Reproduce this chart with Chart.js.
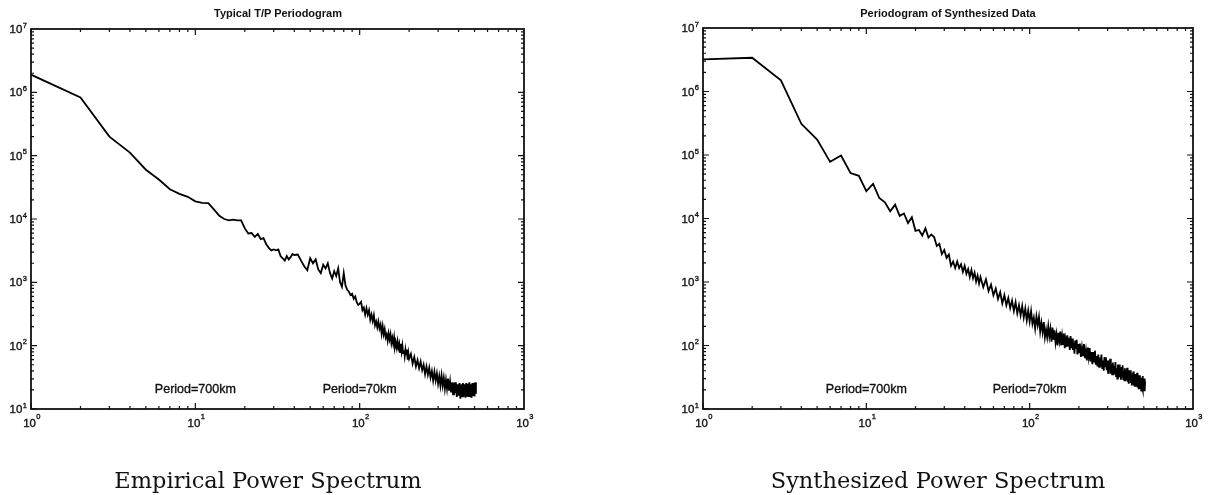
<!DOCTYPE html>
<html>
<head>
<meta charset="utf-8">
<script src="https://cdn.jsdelivr.net/npm/chart.js@4.4.1/dist/chart.umd.min.js"></script>
<style>
  body { margin: 0; background: #fff; width: 1214px; height: 495px; position: relative; overflow: hidden; }
  .panel { position: absolute; top: 0; width: 607px; height: 495px; }
  .title { position: absolute; top: 8px; font: bold 11px "Liberation Sans", Arial, sans-serif; line-height: 11px;
           transform: translateX(-50%); white-space: nowrap; color: #111; }
  .caption { position: absolute; top: 467px; font: 22.5px "DejaVu Serif", serif; line-height: 26px;
             transform: translateX(-50%); white-space: nowrap; color: #111; }
</style>
</head>
<body>
<div class="panel" style="left:0"><canvas id="empirical" width="607" height="495"></canvas></div>
<div class="panel" style="left:607px"><canvas id="synth" width="607" height="495"></canvas></div>
<div class="title" style="left:278px">Typical T/P Periodogram</div>
<div class="title" style="left:948px">Periodogram of Synthesized Data</div>
<div class="caption" style="left:268px">Empirical Power Spectrum</div>
<div class="caption" style="left:938px">Synthesized Power Spectrum</div>
<script>
// tick labels (powers of ten)
const xExponents = [0, 1, 2, 3];
const yExponents = [1, 2, 3, 4, 5, 6, 7];
// text marks inside the plots
const periodLabels = ['Period=700km', 'Period=70km'];
const periodFreqs = [10, 100];
const periodLabelPower = 20;

// left panel: typical T/P periodogram
const empiricalFreq = [
  1, 2, 3, 4, 5, 6, 7, 8, 9, 10, 11, 12, 13, 14, 15, 16, 17, 18, 19, 20,
  21, 22, 23, 24, 25, 26, 27, 28, 29, 30, 31, 32, 33, 34, 35, 36, 37, 38, 39, 40,
  42, 44, 46, 48, 50, 52, 54, 56, 58, 60, 62, 64, 66, 68, 70, 72, 74, 76, 78, 80,
  82, 84, 86, 88, 90, 92, 94, 96, 98, 100,
  102, 104, 106, 108, 110, 112, 114, 116, 118, 120, 122, 124, 126, 128, 130, 132, 134, 136, 138, 140,
  142, 144, 146, 148, 150, 152, 154, 156, 158, 160, 162, 164, 166, 168, 170, 172, 174, 176, 178, 180,
  182, 184, 186, 188, 190, 192, 194, 196, 198, 200,
  205, 210, 215, 220, 225, 230, 235, 240, 245, 250, 255, 260, 265, 270, 275, 280, 285, 290, 295, 300,
  305, 310, 315, 320, 325, 330, 335, 340, 345, 350, 355, 360, 365, 370, 375, 380, 385, 390, 395, 400,
  405, 410, 415, 420, 425, 430, 435, 440, 445, 450, 455, 460, 465, 470, 475, 480, 485, 490, 495, 500,
  505, 510
];
const empiricalPower = [
  1.9e6, 8.3e5, 2.0e5, 1.12e5, 6.0e4, 4.2e4, 2.95e4, 2.5e4, 2.24e4, 1.9e4,
  1.8e4, 1.78e4, 1.41e4, 1.12e4, 1.0e4, 9.5e3, 9.8e3, 9.5e3, 9.5e3, 7.1e3,
  5.9e3, 6.0e3, 5.2e3, 5.8e3, 4.8e3, 5.0e3, 4.0e3, 3.5e3, 3.2e3, 3.3e3,
  3.2e3, 3.3e3, 2.6e3, 2.4e3, 2.2e3, 2.6e3, 2.3e3, 2.5e3, 2.8e3, 2.7e3,
  2.75e3, 2.2e3, 1.8e3, 1.55e3, 2.4e3, 2.0e3, 2.3e3, 1.6e3, 1.4e3, 1.9e3,
  1.66e3, 2.0e3, 1.4e3, 1.15e3, 1.5e3, 1.26e3, 1.66e3, 1.0e3, 850, 1.4e3,
  890, 760, 710, 630, 660, 550, 600, 480, 440, 460,
  490, 363, 398, 309, 389, 309, 363, 257, 309, 245,
  302, 209, 240, 195, 240, 186, 214, 155, 204, 151,
  182, 135, 151, 120, 155, 126, 151, 110, 132, 107,
  135, 95, 110, 93, 117, 93, 107, 79, 107, 81,
  100, 76, 85, 68, 87, 72, 87, 60, 76, 62,
  74, 52, 66, 47, 59, 44, 56, 41, 50, 35.5,
  47, 34.7, 44.7, 31.6, 39.8, 28.2, 38.9, 28.2, 36.3, 25.1,
  33.1, 23.4, 33.9, 23.4, 30.9, 20.9, 28.8, 20.9, 30.2, 19.5,
  26.9, 18.2, 26.3, 17.0, 26.3, 17.8, 26.3, 15.5, 24.5, 16.2,
  25.7, 14.5, 24.5, 15.8, 25.7, 15.8, 24.5, 15.1, 25.7, 16.2,
  25.1, 15.5, 26.3, 15.8, 24.5, 15.1, 25.7, 16.6, 25.7, 15.8,
  26.3, 17.4
];

// right panel: periodogram of synthesized data
const synthFreq = [
  1, 2, 3, 4, 5, 6, 7, 8, 9, 10, 11, 12, 13, 14, 15, 16, 17, 18, 19, 20,
  21, 22, 23, 24, 25, 26, 27, 28, 29, 30, 31, 32, 33, 34, 35, 36, 37, 38, 39, 40,
  41, 42, 43, 44, 45, 46, 47, 48, 49, 50,
  52, 54, 56, 58, 60, 62, 64, 66, 68, 70, 72, 74, 76, 78, 80, 82, 84, 86, 88, 90,
  92, 94, 96, 98, 100,
  102, 104, 106, 108, 110, 112, 114, 116, 118, 120, 122, 124, 126, 128, 130, 132, 134, 136, 138, 140,
  142, 144, 146, 148, 150, 152, 154, 156, 158, 160, 162, 164, 166, 168, 170, 172, 174, 176, 178, 180,
  182, 184, 186, 188, 190, 192, 194, 196, 198, 200,
  203, 206, 209, 212, 215, 218, 221, 224, 227, 230, 233, 236, 239, 242, 245, 248, 251, 254, 257, 260,
  263, 266, 269, 272, 275, 278, 281, 284, 287, 290, 293, 296, 299, 302, 305, 308, 311, 314, 317, 320,
  323, 326, 329, 332, 335, 338, 341, 344, 347, 350, 353, 356, 359, 362, 365, 368, 371, 374, 377, 380,
  383, 386, 389, 392, 395, 398, 401, 404, 407, 410, 413, 416, 419, 422, 425, 428, 431, 434, 437, 440,
  443, 446, 449, 452, 455, 458, 461, 464, 467, 470, 473, 476, 479, 482, 485, 488, 491, 494, 497, 500,
  503, 506, 509
];
const synthPower = [
  3.2e6, 3.4e6, 1.5e6, 3.1e5, 1.75e5, 7.8e4, 9.8e4, 5.2e4, 4.7e4, 2.7e4,
  3.5e4, 2.1e4, 1.8e4, 1.3e4, 1.65e4, 1.1e4, 1.2e4, 8.5e3, 1.05e4, 6.4e3,
  6.6e3, 5.4e3, 7.0e3, 5.0e3, 5.6e3, 5.1e3, 3.7e3, 4.0e3, 2.75e3, 3.2e3,
  2.4e3, 2.7e3, 1.8e3, 2.1e3, 1.66e3, 2.1e3, 1.66e3, 1.9e3, 1.45e3, 1.8e3,
  1.35e3, 1.6e3, 1.2e3, 1.55e3, 1.15e3, 1.4e3, 1.02e3, 1.26e3, 950, 1.2e3,
  830, 1.1e3, 720, 910, 620, 790, 540, 690, 460, 620,
  430, 560, 390, 510, 350, 480, 320, 430, 300, 420,
  275, 380, 250, 355, 240,
  347, 219, 275, 186, 288, 209, 282, 166, 229, 162,
  234, 135, 178, 135, 200, 138, 182, 115, 191, 123,
  174, 112, 148, 100, 158, 120, 166, 100, 141, 105,
  155, 91, 123, 95, 145, 100, 132, 85, 141, 91,
  129, 85, 110, 74, 120, 89, 123, 72, 105, 76,
  107, 66, 93, 68, 105, 63, 83, 58, 93, 66,
  91, 56, 79, 51, 79, 56, 83, 50, 68, 47,
  72, 46, 65, 47, 72, 44, 58, 40, 66, 47,
  65, 41, 58, 37, 58, 42, 62, 36, 50, 35,
  54, 34, 48, 35.5, 55, 33, 44, 30, 50, 35.5,
  50, 31.6, 44.7, 28.8, 45.7, 32.4, 49, 29.5, 39.8, 28.2,
  43.7, 27.5, 38.9, 28.8, 44.7, 26.9, 35.5, 25.1, 40.7, 29.5,
  40.7, 25.7, 36.3, 23.4, 36.3, 26.3, 38.9, 23.4, 32.4, 22.4,
  35.5, 22.4, 31.6, 23.4, 37.2, 21.9, 29.5, 20.4, 33.9, 24.5,
  33.9, 21.4, 30.9, 19.5, 30.9, 22.4, 33.1, 20, 27.5, 19.5,
  30.2, 19.1, 27.5
];

const FONT = '"Liberation Sans", Arial, sans-serif';

function heavyText(ctx, t, x, y) {
  ctx.fillText(t, x, y);
  ctx.strokeText(t, x, y);
}

// frame, inward ticks on all four sides, 10^n labels, period notes
const axisFrame = {
  id: 'axisFrame',
  afterDatasetsDraw(chart) {
    const { ctx, chartArea: a, scales: { x, y } } = chart;
    ctx.save();
    ctx.strokeStyle = '#111';
    ctx.fillStyle = '#111';

    ctx.lineWidth = 1.2;
    ctx.beginPath();
    const xd0 = xExponents[0], xd1 = xExponents[xExponents.length - 1];
    for (let d = xd0; d < xd1; d++) {
      for (let m = 1; m <= 9; m++) {
        const px = x.getPixelForValue(m * Math.pow(10, d));
        const len = m === 1 ? 6 : 3;
        ctx.moveTo(px, a.bottom); ctx.lineTo(px, a.bottom - len);
        ctx.moveTo(px, a.top); ctx.lineTo(px, a.top + len);
      }
    }
    const yd0 = yExponents[0], yd1 = yExponents[yExponents.length - 1];
    for (let d = yd0; d < yd1; d++) {
      for (let m = 1; m <= 9; m++) {
        const py = y.getPixelForValue(m * Math.pow(10, d));
        const len = m === 1 ? 6 : 3;
        ctx.moveTo(a.left, py); ctx.lineTo(a.left + len, py);
        ctx.moveTo(a.right, py); ctx.lineTo(a.right - len, py);
      }
    }
    ctx.stroke();

    ctx.lineWidth = 1.8;
    ctx.strokeRect(a.left, a.top, a.right - a.left, a.bottom - a.top);

    ctx.lineWidth = 0.35;
    // y labels
    ctx.textAlign = 'right';
    ctx.textBaseline = 'alphabetic';
    yExponents.forEach(e => {
      const py = y.getPixelForValue(Math.pow(10, e));
      ctx.font = '7.5px ' + FONT;
      const ew = ctx.measureText(String(e)).width;
      heavyText(ctx, String(e), a.left - 4, py - 1.5);
      ctx.font = '11.5px ' + FONT;
      heavyText(ctx, '10', a.left - 4 - ew - 0.5, py + 4);
    });

    // x labels
    xExponents.forEach(e => {
      const px = x.getPixelForValue(Math.pow(10, e));
      ctx.font = '11.5px ' + FONT;
      ctx.textAlign = 'right';
      heavyText(ctx, '10', px + 5, a.bottom + 17.5);
      ctx.font = '7.5px ' + FONT;
      ctx.textAlign = 'left';
      heavyText(ctx, String(e), px + 5.3, a.bottom + 10);
    });

    // period notes
    ctx.font = '12.5px ' + FONT;
    ctx.textAlign = 'center';
    ctx.textBaseline = 'middle';
    periodLabels.forEach((t, i) => {
      heavyText(ctx, t, x.getPixelForValue(periodFreqs[i]), y.getPixelForValue(periodLabelPower));
    });
    ctx.restore();
  }
};

function makeChart(id, freq, power, pad) {
  return new Chart(document.getElementById(id), {
    type: 'line',
    data: {
      datasets: [{
        data: freq.map((f, i) => ({ x: f, y: power[i] })),
        borderColor: '#000',
        borderWidth: 1.8,
        pointRadius: 0,
        tension: 0,
        fill: false
      }]
    },
    options: {
      responsive: false,
      animation: false,
      events: [],
      layout: { padding: pad },
      plugins: { legend: { display: false }, tooltip: { enabled: false } },
      scales: {
        x: { type: 'logarithmic', min: 1, max: 1000, display: false },
        y: { type: 'logarithmic', min: 10, max: 1e7, display: false }
      }
    },
    plugins: [axisFrame]
  });
}

makeChart('empirical', empiricalFreq, empiricalPower, { left: 31, top: 29, right: 83, bottom: 86 });
makeChart('synth', synthFreq, synthPower, { left: 96, top: 28, right: 21, bottom: 86 });
</script>
</body>
</html>
